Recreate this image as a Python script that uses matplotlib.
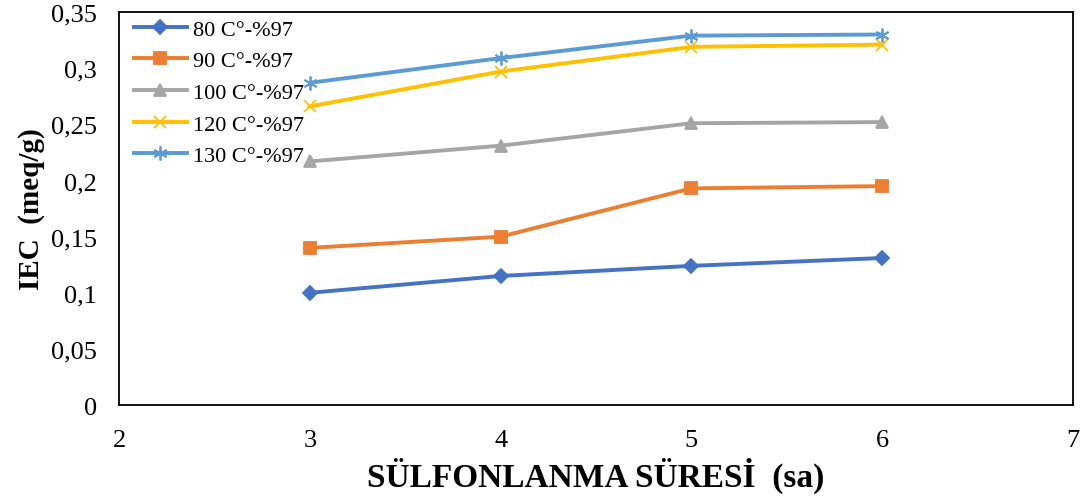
import matplotlib.pyplot as plt

plt.rcParams['font.family'] = ['Liberation Serif', 'DejaVu Serif']

# sulfonation time (h)
hours = [3, 4, 5, 6]

# IEC values (meq/g) per sulfonation temperature
iec_80 = [0.100, 0.115, 0.124, 0.131]
iec_90 = [0.140, 0.150, 0.193, 0.195]
iec_100 = [0.217, 0.231, 0.251, 0.252]
iec_120 = [0.266, 0.297, 0.319, 0.321]
iec_130 = [0.287, 0.309, 0.329, 0.330]

labels = ['80 C°-%97', '90 C°-%97', '100 C°-%97', '120 C°-%97', '130 C°-%97']
series = [iec_80, iec_90, iec_100, iec_120, iec_130]
colors = ['#4472C4', '#ED7D31', '#A5A5A5', '#FFC000', '#5B9BD5']
markers = ['D', 's', '^', 'x', (6, 2, 0)]
msizes = [7, 9, 9, 9, 10]

fig = plt.figure(figsize=(10.87, 5.02), dpi=100)
ax = fig.add_axes([0.1095, 0.191, 0.8775, 0.783])

for vals, lab, c, m, ms in zip(series, labels, colors, markers, msizes):
    ax.plot(hours, vals, color=c, linewidth=2.8, marker=m, markersize=ms,
            markeredgecolor=c, markerfacecolor=c, markeredgewidth=1.3, label=lab)

ax.set_xlim(2, 7)
ax.set_ylim(0, 0.35)
ax.set_xticks([2, 3, 4, 5, 6, 7])
ax.set_yticks([0, 0.05, 0.1, 0.15, 0.2, 0.25, 0.3, 0.35])
ax.set_yticklabels(['0', '0,05', '0,1', '0,15', '0,2', '0,25', '0,3', '0,35'])
ax.tick_params(length=0, labelsize=19)
ax.tick_params(axis='y', pad=16)
ax.tick_params(axis='x', pad=17)
for s in ax.spines.values():
    s.set_linewidth(1.3)
    s.set_color('black')

ax.set_xlabel('SÜLFONLANMA SÜRESİ  (sa)', fontsize=24, fontweight='bold', labelpad=4)
ax.set_ylabel('IEC  (meq/g)', fontsize=21, fontweight='bold', labelpad=4)

ax.legend(loc='upper left', frameon=False, fontsize=16, handlelength=2.4,
          handletextpad=0.25, labelspacing=0.5, borderaxespad=0.0,
          bbox_to_anchor=(0.006, 1.005))

fig.savefig('out.png', dpi=100)
